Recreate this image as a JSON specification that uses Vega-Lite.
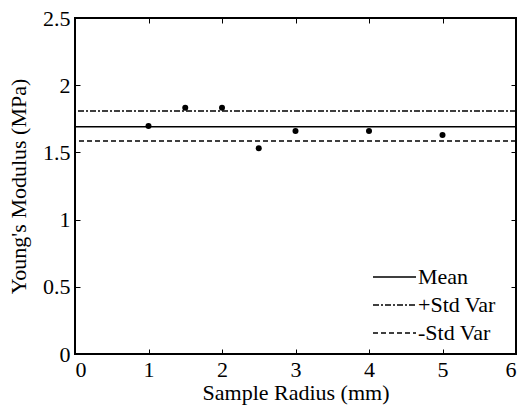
{
  "$schema": "https://vega.github.io/schema/vega-lite/v6.json",
  "width": 441,
  "height": 336,
  "autosize": "none",
  "padding": {"left": 75, "top": 18, "right": 5, "bottom": 55},
  "background": "white",
  "config": {
    "view": {"stroke": "black", "strokeWidth": 2},
    "font": "Liberation Serif, Times New Roman, serif",
    "axis": {
      "grid": false,
      "domain": false,
      "tickColor": "black",
      "tickWidth": 1,
      "tickSize": -5,
      "labelFont": "Liberation Serif, Times New Roman, serif",
      "labelFontSize": 22,
      "labelColor": "black",
      "titleFont": "Liberation Serif, Times New Roman, serif",
      "titleFontSize": 22,
      "titleFontWeight": "normal",
      "titleColor": "black"
    }
  },
  "layer": [
    {
      "data": {"values": [
        {"radius": 1, "modulus": 1.696},
        {"radius": 1.5, "modulus": 1.833},
        {"radius": 2, "modulus": 1.833},
        {"radius": 2.5, "modulus": 1.53},
        {"radius": 3, "modulus": 1.659},
        {"radius": 4, "modulus": 1.659},
        {"radius": 5, "modulus": 1.63}
      ]},
      "mark": {"type": "circle", "color": "black", "opacity": 1, "size": 36},
      "encoding": {
        "x": {"field": "radius", "type": "quantitative", "scale": {"domain": [0, 6], "nice": false, "zero": false},
              "axis": {"orient": "bottom", "title": "Sample Radius (mm)", "values": [0,1,2,3,4,5,6], "format": "~g", "labelPadding": 10, "titlePadding": 2}},
        "y": {"field": "modulus", "type": "quantitative", "scale": {"domain": [0, 2.5], "nice": false, "zero": false},
              "axis": {"orient": "left", "title": "Young's Modulus (MPa)", "values": [0,0.5,1,1.5,2,2.5], "format": "~g", "labelPadding": 10, "titlePadding": 12}}
      }
    },
    {
      "data": {"values": [
        {"series": "Mean", "value": 1.691},
        {"series": "+Std Var", "value": 1.808},
        {"series": "-Std Var", "value": 1.585}
      ]},
      "mark": {"type": "rule", "color": "black", "strokeWidth": 1.5},
      "encoding": {
        "y": {"field": "value", "type": "quantitative", "scale": {"domain": [0, 2.5], "nice": false, "zero": false}, "axis": null},
        "strokeDash": {"field": "series", "type": "nominal",
          "scale": {"domain": ["Mean", "+Std Var", "-Std Var"], "range": [[1, 0], [6, 2, 2, 2], [5, 3]]},
          "legend": {"orient": "none", "legendX": 297, "legendY": 245, "title": null, "symbolType": "stroke",
                     "symbolSize": 1849, "symbolStrokeWidth": 1.5, "symbolStrokeColor": "black",
                     "clipHeight": 28,
                     "labelFont": "Liberation Serif, Times New Roman, serif", "labelFontSize": 22, "labelColor": "black",
                     "labelOffset": 1, "rowPadding": 0, "padding": 0}}
      }
    },
    {
      "data": {"values": [{"radius": 0, "modulus": 0}]},
      "mark": {"type": "point", "opacity": 0},
      "encoding": {
        "x": {"field": "radius", "type": "quantitative", "scale": {"domain": [0, 6], "nice": false, "zero": false},
              "axis": {"orient": "top", "title": null, "labels": false, "values": [1,2,3,4,5]}},
        "y": {"field": "modulus", "type": "quantitative", "scale": {"domain": [0, 2.5], "nice": false, "zero": false},
              "axis": {"orient": "right", "title": null, "labels": false, "values": [0.5,1,1.5,2]}}
      }
    }
  ],
  "resolve": {"scale": {"x": "independent", "y": "independent"}, "axis": {"x": "independent", "y": "independent"}}
}
